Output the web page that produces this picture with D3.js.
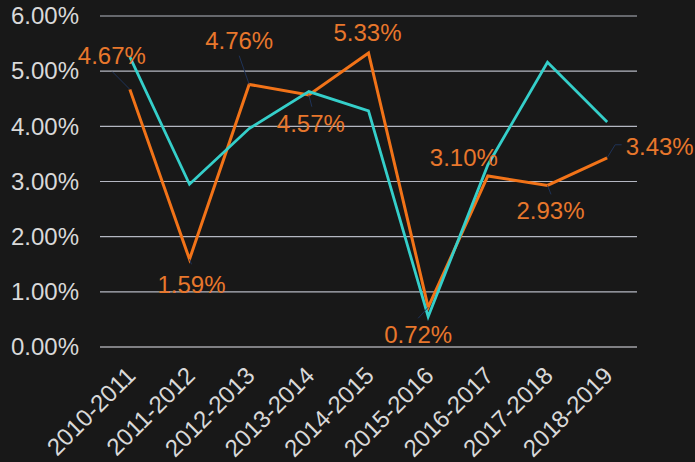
<!DOCTYPE html>
<html>
<head>
<meta charset="utf-8">
<script src="https://cdn.jsdelivr.net/npm/d3@7"></script>
<style>
  html, body { margin: 0; padding: 0; background: #181818; }
  svg { display: block; }
</style>
</head>
<body>
<div id="chart"></div>
<script>
const categories = ["2010-2011","2011-2012","2012-2013","2013-2014","2014-2015","2015-2016","2016-2017","2017-2018","2018-2019"];
const orangeValues = [4.67, 1.59, 4.76, 4.57, 5.33, 0.72, 3.10, 2.93, 3.43];
const tealValues = [5.26, 2.95, 3.96, 4.63, 4.28, 0.55, 3.30, 5.16, 4.08];
const yTicks = [0, 1, 2, 3, 4, 5, 6];

// label placement (relative offsets from the point): label dx/dy, leader end
const labelLayout = [
  {dx: -18, dy: -25, lx: -17.5, ly: -17.7},
  {dx: 2, dy: 33.4, lx: 2, ly: 5},
  {dx: -10, dy: -35, lx: -10, ly: -28.7},
  {dx: 2, dy: 37, lx: 3, ly: 11.8},
  {dx: -1, dy: -12, lx: 0, ly: 0},
  {dx: -10, dy: 36, lx: -10, ly: 11},
  {dx: -24, dy: -10, lx: 0, ly: 0},
  {dx: 3, dy: 33.6, lx: 3.5, ly: 9},
  {dx: 52.5, dy: -3, lx: 8, ly: -13, hx: 14.5}
];

const W = 695, H = 462;
const margin = {left: 100, right: 58, top: 16, bottom: 115};
const svg = d3.select("#chart").append("svg").attr("width", W).attr("height", H);
svg.append("rect").attr("width", W).attr("height", H).attr("fill", "#181818");

const x = d3.scaleBand().domain(categories).range([margin.left, W - margin.right]);
const y = d3.scaleLinear().domain([0, 6]).range([H - margin.bottom, margin.top]);
const px = c => x(c) + x.bandwidth() / 2;

const font = "'Liberation Sans', Arial, sans-serif";

// gridlines
svg.append("g").selectAll("line").data(yTicks).join("line")
  .attr("x1", margin.left).attr("x2", W - margin.right)
  .attr("y1", d => y(d)).attr("y2", d => y(d))
  .attr("stroke", d => d === 0 ? "#e6e6ee" : "#b4b7c2").attr("stroke-width", 1.2);

// y axis labels
const yAxis = d3.axisLeft(y).tickValues(yTicks).tickFormat(d => d3.format(".2f")(d) + "%").tickSize(0).tickPadding(21);
const gy = svg.append("g").attr("transform", `translate(${margin.left},0)`).call(yAxis);
gy.select(".domain").remove();
gy.selectAll("text").attr("fill", "#d9d9d9").style("font-family", font).style("font-size", "24px");

// x axis labels
const xAxis = d3.axisBottom(x).tickSize(0).tickPadding(0);
const gx = svg.append("g").attr("transform", `translate(0,${H - margin.bottom})`).call(xAxis);
gx.select(".domain").remove();
gx.selectAll("text")
  .attr("fill", "#d9d9d9").style("font-family", font).style("font-size", "24px")
  .attr("text-anchor", "end").attr("dy", null).attr("y", 0)
  .attr("transform", "translate(7,30) rotate(-45)");

// lines
const line = d3.line().x((d, i) => px(categories[i])).y(d => y(d));
svg.append("path").datum(orangeValues).attr("d", line)
  .attr("fill", "none").attr("stroke", "#f27318").attr("stroke-width", 3).attr("stroke-linejoin", "miter");
svg.append("path").datum(tealValues).attr("d", line)
  .attr("fill", "none").attr("stroke", "#35cfca").attr("stroke-width", 2.8).attr("stroke-linejoin", "miter");

// leader lines
const lg = svg.append("g");
orangeValues.forEach((v, i) => {
  const L = labelLayout[i];
  if (L.lx === 0 && L.ly === 0) return;
  const x0 = px(categories[i]), y0 = y(v);
  const pts = [[x0, y0], [x0 + L.lx, y0 + L.ly]];
  if (L.hx) pts.push([x0 + L.hx, y0 + L.ly]);
  lg.append("path").attr("d", d3.line()(pts))
    .attr("fill", "none").attr("stroke", "#1f3358").attr("stroke-width", 1);
});

// data labels
svg.append("g").selectAll("text").data(orangeValues).join("text")
  .attr("x", (d, i) => px(categories[i]) + labelLayout[i].dx)
  .attr("y", (d, i) => y(d) + labelLayout[i].dy)
  .attr("text-anchor", "middle")
  .attr("fill", "#e8772c").style("font-family", font).style("font-size", "24px")
  .text(d => d3.format(".2f")(d) + "%");
</script>
</body>
</html>
